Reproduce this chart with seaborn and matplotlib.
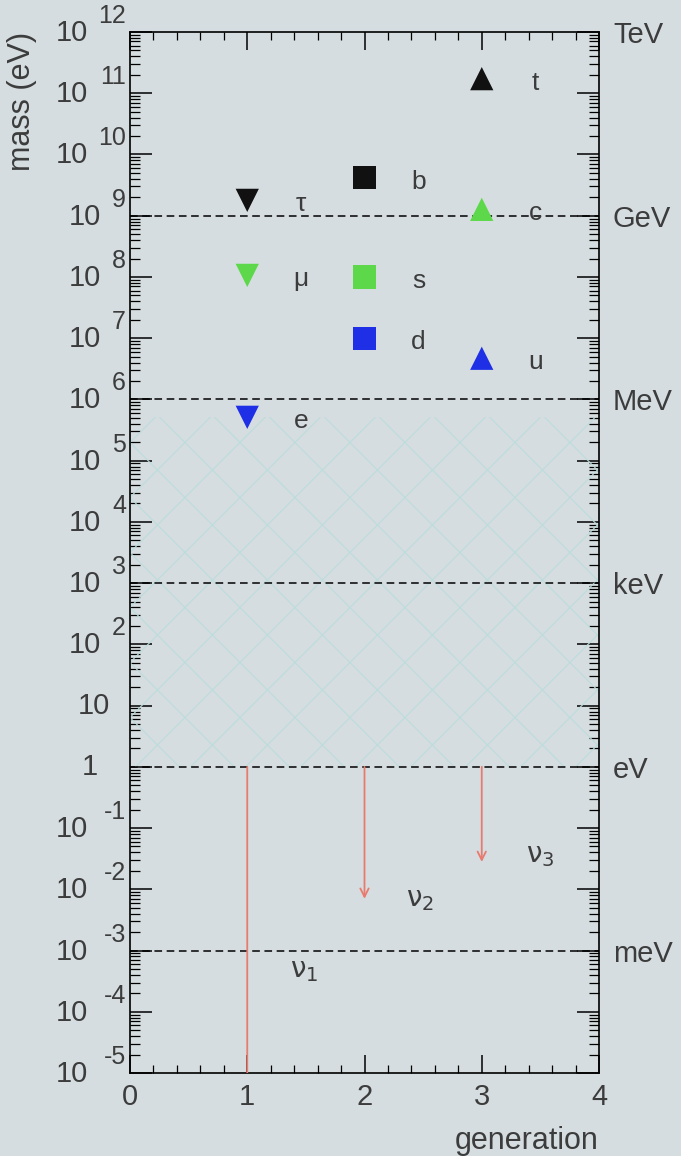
import numpy as np
import pandas as pd
import seaborn as sns
import matplotlib.pyplot as plt
from matplotlib.ticker import LogLocator, MultipleLocator, NullLocator

# fermion masses (eV)
names = ['e', 'μ', 'τ', 'd', 's', 'b', 'u', 'c', 't']
column = [1, 1, 1, 2, 2, 2, 3, 3, 3]
gen = [1, 2, 3, 1, 2, 3, 1, 2, 3]
kind = ['lepton'] * 3 + ['down'] * 3 + ['up'] * 3
mass_ev = [5.1e5, 1.06e8, 1.78e9, 1.0e7, 1.0e8, 4.2e9, 4.7e6, 1.27e9, 1.73e11]

# neutrino upper limits (arrows down from 1 eV)
nu_names = [r'$\mathrm{\nu}_1$', r'$\mathrm{\nu}_2$', r'$\mathrm{\nu}_3$']
nu_x = [1, 2, 3]
nu_top = [1.0, 1.0, 1.0]
nu_low = [1e-6, 7e-3, 2.8e-2]
nu_label_x = [1.49, 2.47, 3.50]
nu_label_y = [4.7e-4, 6.6e-3, 3.5e-2]

# energy scale markers
unit_levels = [1e12, 1e9, 1e6, 1e3, 1.0, 1e-3]
unit_names = ['TeV', 'GeV', 'MeV', 'keV', 'eV', 'meV']
dashed_levels = [1e9, 1e6, 1e3, 1.0, 1e-3]
exponents = list(range(-5, 13))

# empty (hatched) band
hatch_lo, hatch_hi = 1.0, 5.1e5

bg = '#d5dde0'
txt = '#3c3c3c'
sns.set_theme(style='ticks')
plt.rcParams['font.family'] = ['Liberation Sans', 'DejaVu Sans']
plt.rcParams['axes.facecolor'] = bg
plt.rcParams['figure.facecolor'] = bg

fig = plt.figure(figsize=(6.81, 11.56), dpi=100)
ax = fig.add_axes([130 / 681, 83 / 1156, 469 / 681, 1041 / 1156])
ax.set_yscale('log')
ax.set_xlim(0, 4)
ax.set_ylim(1e-5, 1e12)

# cross-hatched band, drawn as thin lines clipped to the band
band = ax.axhspan(hatch_lo, hatch_hi, facecolor='none', edgecolor='none')
k = 469 / 1041
step = 55 / 469
for c in np.arange(-2.4, 1.2, step):
    for ys in ([0, 1], [1, 0]):
        ln, = ax.plot([c, c + 1 / k], ys, transform=ax.transAxes,
                      color='#bcdcdc', lw=0.8, zorder=1)
        ln.set_clip_path(band)

for lvl in dashed_levels:
    ax.axhline(lvl, color='black', ls=(0, (5, 3)), lw=1.1, zorder=2)

df = pd.DataFrame({'name': names, 'column': column, 'gen': gen,
                   'kind': kind, 'mass': mass_ev})
sns.scatterplot(data=df, x='column', y='mass', hue='gen', style='kind',
                palette={1: '#1f2fe6', 2: '#5cd84a', 3: '#111111'},
                markers={'lepton': 'v', 'down': 's', 'up': '^'},
                s=280, linewidth=0, legend=False, ax=ax, zorder=5)

for _, r in df.iterrows():
    ax.annotate(r['name'], xy=(r['column'], r['mass']), xytext=(54, -4),
                textcoords='offset pixels', ha='center', va='center',
                fontsize=19, color=txt)

for x, top, low in zip(nu_x, nu_top, nu_low):
    a = ax.annotate('', xy=(x, low), xytext=(x, top), annotation_clip=False,
                    arrowprops=dict(arrowstyle='->,head_length=0.5,head_width=0.25',
                                    color='#e87a6e', lw=1.3,
                                    shrinkA=0, shrinkB=0))
    a.arrow_patch.set_clip_box(ax.bbox)
    a.arrow_patch.set_clip_on(True)

for lab, x, y in zip(nu_names, nu_label_x, nu_label_y):
    ax.text(x, y, lab, fontsize=20, color=txt, ha='center', va='center')

ax.set_xlim(0, 4)
ax.set_ylim(1e-5, 1e12)

ax.yaxis.set_major_locator(LogLocator(base=10, numticks=40))
ax.yaxis.set_minor_locator(LogLocator(base=10, subs=np.arange(2, 10), numticks=40))
ax.xaxis.set_major_locator(MultipleLocator(1))
ax.xaxis.set_minor_locator(MultipleLocator(0.2))
ax.tick_params(axis='y', which='major', direction='in', length=16, width=1.1,
               left=True, right=True, labelleft=False, color='black')
ax.tick_params(axis='y', which='minor', direction='in', length=7, width=0.9,
               left=True, right=True, color='black')
ax.tick_params(axis='x', which='major', direction='in', length=13, width=1.1,
               top=True, bottom=True, labelsize=21, labelcolor=txt, pad=7,
               color='black')
ax.tick_params(axis='x', which='minor', direction='in', length=6, width=0.9,
               top=True, bottom=True, color='black')
for sp in ax.spines.values():
    sp.set_color('black')
    sp.set_linewidth(1.2)

# ROOT-style "10^n" labels on the left
ytr = ax.get_yaxis_transform()
for e in exponents:
    if e == 0:
        ax.annotate('1', xy=(0, 1.0), xycoords=ytr, xytext=(-32, 0),
                    textcoords='offset pixels', ha='right', va='center',
                    fontsize=21, color=txt)
    elif e == 1:
        ax.annotate('10', xy=(0, 10.0), xycoords=ytr, xytext=(-20, 0),
                    textcoords='offset pixels', ha='right', va='center',
                    fontsize=21, color=txt)
    else:
        n = len(str(e))
        ax.annotate('10', xy=(0, 10.0 ** e), xycoords=ytr,
                    xytext=(-(16 + 13 * n), -1), textcoords='offset pixels',
                    ha='right', va='center', fontsize=21, color=txt)
        ax.annotate(str(e), xy=(0, 10.0 ** e), xycoords=ytr, xytext=(-4, 16),
                    textcoords='offset pixels', ha='right', va='center',
                    fontsize=18, color=txt)

sec = ax.secondary_yaxis('right')
sec.set_yticks(unit_levels, unit_names)
sec.yaxis.set_minor_locator(NullLocator())
sec.tick_params(which='both', length=0, pad=10, labelsize=21, labelcolor=txt)
sec.spines['right'].set_visible(False)

ax.set_xlabel('generation', loc='right', fontsize=22, color=txt)
ax.xaxis.set_label_coords(1.0, -0.051)
ax.set_ylabel('mass (eV)', loc='top', fontsize=22, color=txt)
ax.yaxis.set_label_coords(-0.198, 1.0)

fig.savefig('out.png', dpi=100, facecolor=bg)
